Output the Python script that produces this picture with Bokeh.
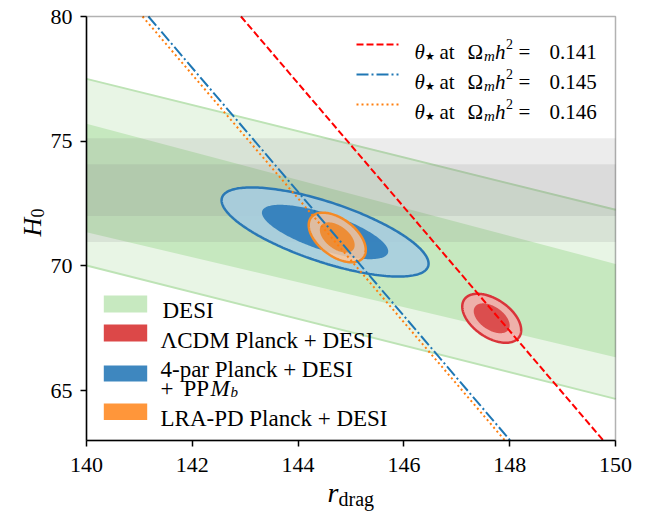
import numpy as np
from bokeh.plotting import figure
from bokeh.models import Range1d, Label, BoxAnnotation, Arrow, FixedTicker
from bokeh.embed import file_html
from bokeh.resources import INLINE

# ---------------- data ----------------
xlim = [140, 150]
ylim = [63, 80]
x_ticks = [140, 142, 144, 146, 148, 150]
y_ticks = [65, 70, 75, 80]

# DESI BAO band edges (H0 at rdrag = 140 and 150)
desi_rdrag = [140, 150]
desi_h0_2hi = [77.50, 72.25]
desi_h0_1hi = [75.70, 70.08]
desi_h0_1lo = [71.35, 66.34]
desi_h0_2lo = [70.02, 64.67]

# SH0ES H0
shoes_mean = 73.04
shoes_sigma = 1.04

# theta_* lines: rdrag where they cross H0 = 80 and H0 = 63
theta_h0 = [80, 63]
theta_rdrag_0141 = [142.92, 149.77]
theta_rdrag_0145 = [141.17, 148.01]
theta_rdrag_0146 = [141.06, 147.91]
theta_omh2 = ["0.141", "0.145", "0.146"]

# posterior contours: centre, sigmas, correlation
lcdm = dict(x=147.66, y=67.90, sx=0.224, sy=0.395, rho=-0.48)
fourpar = dict(x=144.51, y=71.36, sx=0.787, sy=0.719, rho=-0.71)
lrapd = dict(x=144.74, y=71.14, sx=0.217, sy=0.400, rho=-0.50)
k_1sig, k_2sig = 2.30, 6.18

legend_labels = ["DESI", "\u039bCDM Planck + DESI", "4-par Planck + DESI",
                 "LRA-PD Planck + DESI"]

SERIF = "Liberation Serif"

# ---------------- layout (pixels) ----------------
W, H = 645, 513             # canvas
BOX_L, BOX_R, BOX_T, BOX_B = 86, 615, 16, 440   # data box inside the canvas
kx = (xlim[1] - xlim[0]) / (BOX_R - BOX_L)
ky = (ylim[1] - ylim[0]) / (BOX_B - BOX_T)
x_range = Range1d(xlim[0] - BOX_L * kx, xlim[1] + (W - BOX_R) * kx)
y_range = Range1d(ylim[0] - (H - BOX_B) * ky, ylim[1] + BOX_T * ky)


def contour(c, k):
    t = np.linspace(0, 2 * np.pi, 241)
    cxy = c["rho"] * c["sx"] * c["sy"]
    cov = np.array([[c["sx"] ** 2, cxy], [cxy, c["sy"] ** 2]])
    L = np.linalg.cholesky(cov)
    pts = L @ np.vstack([np.cos(t), np.sin(t)]) * np.sqrt(k)
    return c["x"] + pts[0], c["y"] + pts[1]


p = figure(frame_width=W, frame_height=H, x_range=x_range, y_range=y_range,
           output_backend="svg", toolbar_location=None,
           min_border_left=0, min_border_right=0,
           min_border_top=0, min_border_bottom=0)
p.background_fill_color = "white"
p.border_fill_color = "white"
p.xgrid.visible = False
p.ygrid.visible = False
p.outline_line_color = None

# DESI bands
p.varea(x=desi_rdrag, y1=desi_h0_2lo, y2=desi_h0_2hi, fill_color="#e8f5e5")
p.varea(x=desi_rdrag, y1=desi_h0_1lo, y2=desi_h0_1hi, fill_color="#c6e8bf")
p.line(desi_rdrag, desi_h0_2hi, line_color="#bde3b5", line_width=2)
p.line(desi_rdrag, desi_h0_2lo, line_color="#bde3b5", line_width=2)

# SH0ES bands
for n in (2, 1):
    p.varea(x=xlim, y1=[shoes_mean - n * shoes_sigma] * 2,
            y2=[shoes_mean + n * shoes_sigma] * 2,
            fill_color="#808080", fill_alpha=0.15)

# contours
styles = [
    (fourpar, "#a6cde2", "#2b7bba", "#2a78b5"),
    (lrapd, "#fcc79c", "#ee872a", "#f58a25"),
    (lcdm, "#f4a6a6", "#d84444", "#d9343a"),
]
for c, fo, fi, ec in styles:
    x2, y2 = contour(c, k_2sig)
    x1, y1 = contour(c, k_1sig)
    p.patch(x2, y2, fill_color=fo, fill_alpha=0.85, line_color=ec, line_width=2.5)
    p.patch(x1, y1, fill_color=fi, fill_alpha=0.9, line_color=None)

# theta_* lines
line_styles = [
    (theta_rdrag_0141, "#ff0000", "7 3"),
    (theta_rdrag_0145, "#1f77b4", "12 3 2 3"),
    (theta_rdrag_0146, "#ff7f0e", "2 3"),
]
for xs, col, dash in line_styles:
    p.line(xs, theta_h0, line_color=col, line_width=2, line_dash=dash)

# axes, drawn at the edges of the data box
p.xaxis[0].fixed_location = ylim[0]
p.xaxis[0].bounds = tuple(xlim)
p.yaxis[0].fixed_location = xlim[0]
p.yaxis[0].bounds = tuple(ylim)
for ax in (p.xaxis[0], p.yaxis[0]):
    ax.major_label_text_font = SERIF
    ax.major_label_text_font_size = "22px"
    ax.major_label_text_color = "black"
    ax.axis_line_color = "black"
    ax.axis_line_width = 1.5
    ax.major_tick_line_color = "black"
    ax.major_tick_line_width = 1.5
    ax.major_tick_out = 6
    ax.major_tick_in = 0
    ax.minor_tick_line_color = None
p.xaxis[0].ticker = FixedTicker(ticks=x_ticks)
p.yaxis[0].ticker = FixedTicker(ticks=y_ticks)
p.xaxis[0].major_label_standoff = 11
p.yaxis[0].major_label_standoff = 8

# box frame (spines)
p.add_layout(BoxAnnotation(left=xlim[0], right=xlim[1], bottom=ylim[0], top=ylim[1],
                           fill_alpha=0, line_color="black", line_width=1.5))


def put(text, px, py, size, style="normal", angle=0.0):
    """Place text with its baseline start at canvas pixel (px, py from top)."""
    p.add_layout(Label(x=px, y=H - py, x_units="screen", y_units="screen",
                       text=text, text_font=SERIF, text_font_size=f"{size}px",
                       text_font_style=style, text_color="black",
                       text_baseline="alphabetic", text_align="left",
                       angle=angle))


# axis labels
put("r", 327, 492, 28, "italic")
put("drag", 338, 498, 20)
put("H", 32, 236, 26, "italic", angle=np.pi / 2)
put("0", 37, 217, 18, angle=np.pi / 2)

# upper-right legend
rows_py = [44, 74, 104]
for (xs, col, dash), val, ly in zip(line_styles, theta_omh2, rows_py):
    p.add_layout(Arrow(x_start=356, y_start=H - ly, x_end=398, y_end=H - ly,
                       start_units="screen", end_units="screen", end=None,
                       line_color=col, line_width=2, line_dash=dash))
    b = ly + 7.5
    put("\u03b8", 414, b, 21, "italic")
    put("\u2605", 424.5, b + 4, 11)
    put("at", 439, b, 21)
    put("\u03a9", 467, b, 21)
    put("m", 483.5, b + 4, 15, "italic")
    put("h", 494.5, b, 21, "italic")
    put("2", 505.5, b - 8, 14)
    put("=", 518, b, 21)
    put(val, 549, b, 21)

# lower-left legend
patches = [
    ("#c7e9c0", 295, 312),
    ("#dc4848", 324, 341),
    ("#3e87bf", 365, 381),
    ("#ff963a", 403, 419.5),
]
for col, top, bot in patches:
    p.add_layout(BoxAnnotation(left=103.3, right=146.7, bottom=H - bot, top=H - top,
                               left_units="screen", right_units="screen",
                               bottom_units="screen", top_units="screen",
                               fill_color=col, fill_alpha=1.0, line_color=None))
put(legend_labels[0], 162, 310, 23)
put(legend_labels[1], 160, 339.5, 23)
put(legend_labels[2], 160, 368.5, 23)
put("+", 160, 387.5, 23)
put("PP", 183, 387.5, 23)
put("M", 210, 387.5, 23, "italic")
put("b", 230, 391.5, 15, "italic")
put(legend_labels[3], 160, 418, 23)

open("out.html", "w").write(file_html(p, INLINE))
